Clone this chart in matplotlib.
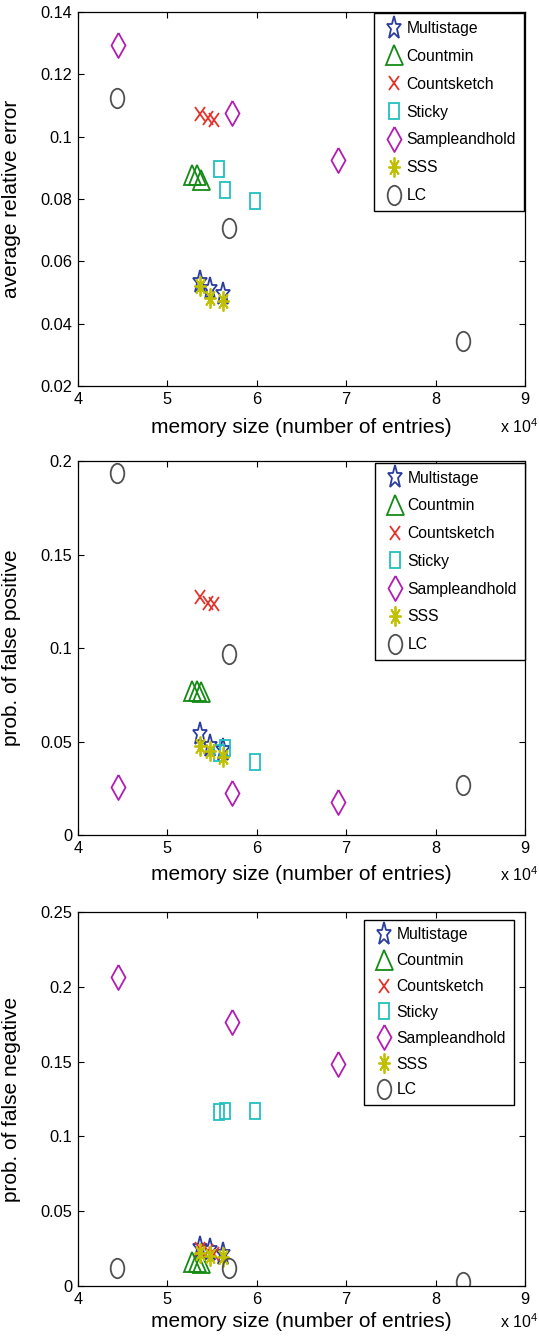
import matplotlib
matplotlib.use('Agg')
import matplotlib.pyplot as plt
from matplotlib.markers import MarkerStyle
from matplotlib.transforms import Affine2D
from matplotlib.ticker import FormatStrFormatter

plt.rcParams['font.family'] = ['Liberation Sans', 'DejaVu Sans']

# algorithm names, in legend order
algorithms = ['Multistage', 'Countmin', 'Countsketch', 'Sticky',
              'Sampleandhold', 'SSS', 'LC']

# memory size of each run, in units of 10^4 entries
mem_multistage = [5.37, 5.48, 5.62]
mem_countmin = [5.28, 5.33, 5.38]
mem_countsketch = [5.37, 5.45, 5.52]
mem_sticky = [5.58, 5.645, 5.975]
mem_sampleandhold = [4.45, 5.72, 6.91]
mem_sss = [5.37, 5.48, 5.62]
mem_lc = [4.44, 5.685, 8.31]

# average relative error
err_multistage = [0.0533, 0.0510, 0.0494]
err_countmin = [0.0878, 0.0878, 0.0862]
err_countsketch = [0.1072, 0.1061, 0.1053]
err_sticky = [0.0897, 0.0830, 0.0795]
err_sampleandhold = [0.1293, 0.1076, 0.0925]
err_sss = [0.0522, 0.0483, 0.0474]
err_lc = [0.1125, 0.0707, 0.0345]

# probability of false positive
fp_multistage = [0.0540, 0.0474, 0.0455]
fp_countmin = [0.0772, 0.0772, 0.0766]
fp_countsketch = [0.1271, 0.1239, 0.1233]
fp_sticky = [0.0437, 0.0464, 0.0392]
fp_sampleandhold = [0.0258, 0.0223, 0.0178]
fp_sss = [0.0478, 0.0451, 0.0419]
fp_lc = [0.1934, 0.0968, 0.0267]

# probability of false negative
fn_multistage = [0.0251, 0.0243, 0.0216]
fn_countmin = [0.0158, 0.0158, 0.0155]
fn_countsketch = [0.0245, 0.0235, 0.0212]
fn_sticky = [0.1162, 0.1169, 0.1169]
fn_sampleandhold = [0.2069, 0.1762, 0.1484]
fn_sss = [0.0218, 0.0200, 0.0191]
fn_lc = [0.0118, 0.0118, 0.0029]

x_ticks = [4, 5, 6, 7, 8, 9]
err_ticks = [0.02, 0.04, 0.06, 0.08, 0.1, 0.12, 0.14]
fp_ticks = [0, 0.05, 0.1, 0.15, 0.2]
fn_ticks = [0, 0.05, 0.1, 0.15, 0.2, 0.25]

memory = [mem_multistage, mem_countmin, mem_countsketch, mem_sticky,
          mem_sampleandhold, mem_sss, mem_lc]

colors = ['#2b3d9e', '#168a16', '#e5322b', '#22bfc0',
          '#b21eb2', '#c0c000', '#505050']


def squeezed(marker, sx):
    """Marker narrowed horizontally, drawn as an outline."""
    return MarkerStyle(marker, fillstyle='none',
                       transform=Affine2D().scale(sx, 1.0))


diamond = [(0, 1), (0.56, 0), (0, -1), (-0.56, 0), (0, 1)]

# (marker, size in points) per algorithm
marker_specs = [
    (squeezed('*', 0.65), 17),
    (squeezed('^', 0.85), 14.4),
    (squeezed('x', 0.75), 9.5),
    (squeezed('s', 0.67), 11.5),
    (MarkerStyle(diamond, fillstyle='none'), 18),
    (squeezed((8, 2, 0), 0.6), 14.4),
    (squeezed('o', 0.7), 14),
]

fig = plt.figure(figsize=(5.39, 13.36), dpi=100)

panels = [
    # values, y range, ticks, label, axes bottom, legend anchor, row spacing, xlabel y
    ([err_multistage, err_countmin, err_countsketch, err_sticky,
      err_sampleandhold, err_sss, err_lc],
     (0.02, 0.14), err_ticks, 'average relative error', 0.7111,
     (0.998, 0.997), 0.82, -0.11),
    ([fp_multistage, fp_countmin, fp_countsketch, fp_sticky,
      fp_sampleandhold, fp_sss, fp_lc],
     (0, 0.2), fp_ticks, 'prob. of false positive', 0.3750,
     (1.0, 0.995), 0.81, -0.105),
    ([fn_multistage, fn_countmin, fn_countsketch, fn_sticky,
      fn_sampleandhold, fn_sss, fn_lc],
     (0, 0.25), fn_ticks, 'prob. of false negative', 0.0374,
     (0.975, 0.98), 0.69, -0.096),
]

for values, ylim, yticks, ylabel, bottom, anchor, spacing, xlab_y in panels:
    ax = fig.add_axes([0.1447, bottom, 0.8293, 0.2799])

    handles = []
    for name, xs, ys, color, (mk, ms) in zip(algorithms, memory, values,
                                             colors, marker_specs):
        line, = ax.plot(xs, ys, linestyle='none', marker=mk, markersize=ms,
                        markeredgecolor=color, markeredgewidth=1.3,
                        color=color, label=name)
        handles.append(line)

    ax.set_xlim(4, 9)
    ax.set_ylim(*ylim)
    ax.set_xticks(x_ticks)
    ax.set_yticks(yticks)
    ax.xaxis.set_major_formatter(FormatStrFormatter('%g'))
    ax.yaxis.set_major_formatter(FormatStrFormatter('%g'))
    ax.tick_params(direction='in', top=True, right=True, length=4,
                   width=0.8, labelsize=11.8, pad=4)
    for spine in ax.spines.values():
        spine.set_linewidth(0.9)

    ax.set_ylabel(ylabel, fontsize=15)
    ax.yaxis.set_label_coords(-0.128, 0.5)
    ax.set_xlabel('memory size (number of entries)', fontsize=15, va='center')
    ax.xaxis.set_label_coords(0.5, xlab_y)
    ax.text(0.943, xlab_y, r'x 10$^{\mathregular{4}}$', transform=ax.transAxes,
            fontsize=11.5, ha='left', va='center')

    leg = ax.legend(handles=handles, loc='upper right', bbox_to_anchor=anchor,
                    borderaxespad=0, fontsize=11.3, numpoints=1,
                    handlelength=1.53, handletextpad=0.05, borderpad=0.5,
                    labelspacing=spacing, fancybox=False, framealpha=1,
                    edgecolor='black')
    leg.get_frame().set_linewidth(1.0)

fig.savefig('out.png', dpi=100, facecolor='white')
